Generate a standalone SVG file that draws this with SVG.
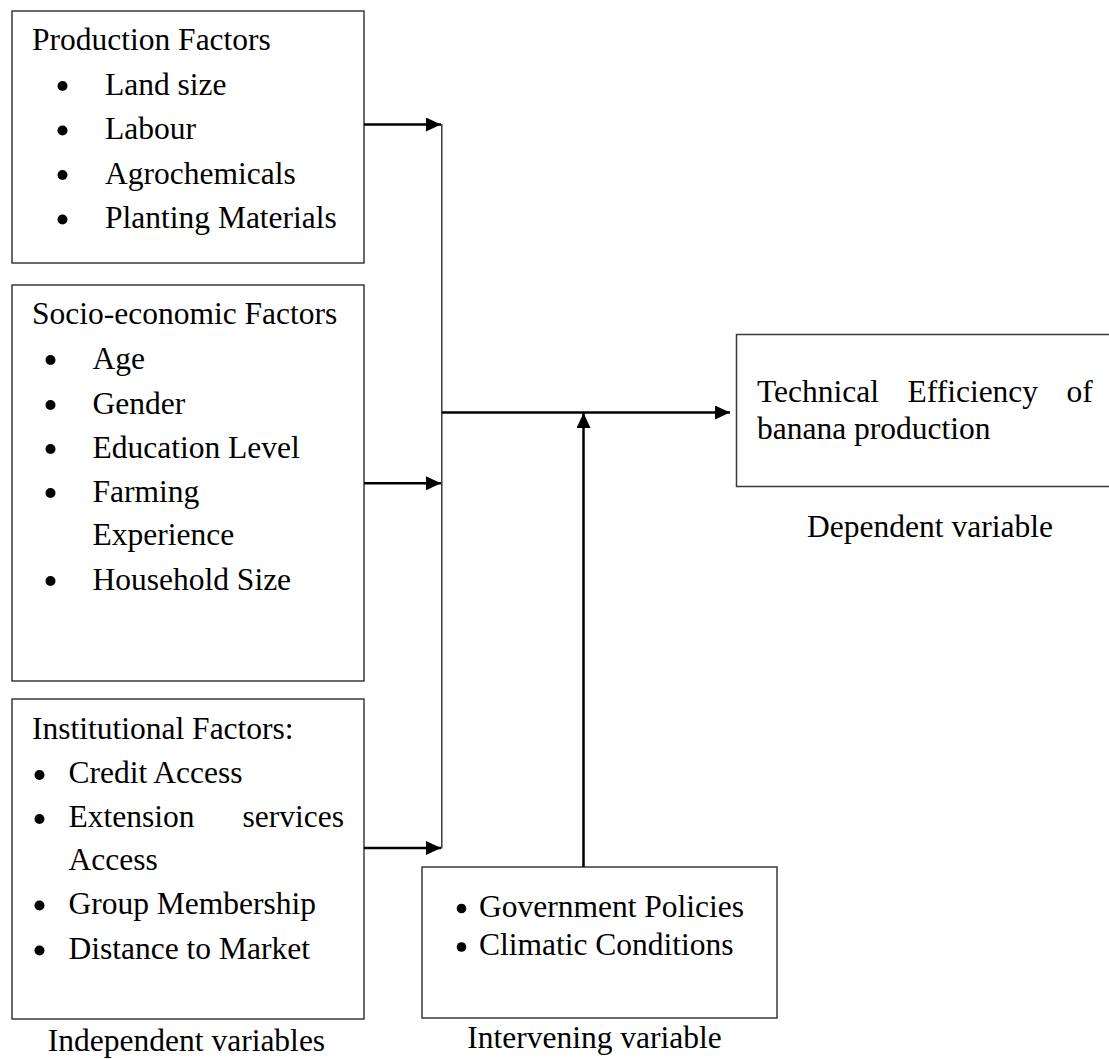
<svg xmlns="http://www.w3.org/2000/svg" width="1109" height="1059" viewBox="0 0 1109 1059">
<style>
  .box { fill: #ffffff; stroke: #3a3a3a; stroke-width: 1.5; }
  .t { font-family: "Liberation Serif", "Times New Roman", serif; font-size: 31.5px; fill: #000000; }
  .bul { fill: #000000; }
  .conn { fill: none; stroke: #000000; stroke-width: 2.5; }
  .bus { fill: none; stroke: #3a3a3a; stroke-width: 1.5; }
</style>
<defs>
  <marker id="arrow" markerUnits="userSpaceOnUse" markerWidth="16" markerHeight="15" refX="15" refY="7" orient="auto">
    <path d="M0,0 L15,7 L0,14 Z" fill="#000000"/>
  </marker>
</defs>
<rect width="1109" height="1059" fill="#ffffff"/>

<g id="production-factors">
  <rect class="box" x="12" y="11" width="352" height="252"/>
  <text class="t" x="32" y="50">Production Factors</text>
  <circle class="bul" cx="62.5" cy="86" r="5"/>
  <text class="t" x="105" y="94.5">Land size</text>
  <circle class="bul" cx="62.5" cy="130.5" r="5"/>
  <text class="t" x="105" y="139">Labour</text>
  <circle class="bul" cx="62.5" cy="175" r="5"/>
  <text class="t" x="105" y="183.5">Agrochemicals</text>
  <circle class="bul" cx="62.5" cy="219.5" r="5"/>
  <text class="t" x="105" y="228">Planting Materials</text>
</g>

<g id="socio-economic-factors">
  <rect class="box" x="12" y="285" width="352" height="396"/>
  <text class="t" x="32" y="323.5">Socio-economic Factors</text>
  <circle class="bul" cx="50.5" cy="360" r="5"/>
  <text class="t" x="92.5" y="368.5">Age</text>
  <circle class="bul" cx="50.5" cy="405" r="5"/>
  <text class="t" x="92.5" y="413.5">Gender</text>
  <circle class="bul" cx="50.5" cy="449" r="5"/>
  <text class="t" x="92.5" y="457.5">Education Level</text>
  <circle class="bul" cx="50.5" cy="493" r="5"/>
  <text class="t" x="92.5" y="501.5">Farming</text>
  <text class="t" x="92.5" y="545">Experience</text>
  <circle class="bul" cx="50.5" cy="581" r="5"/>
  <text class="t" x="92.5" y="589.5">Household Size</text>
</g>

<g id="institutional-factors">
  <rect class="box" x="12" y="699" width="352" height="320"/>
  <text class="t" x="32" y="739">Institutional Factors:</text>
  <circle class="bul" cx="39.5" cy="775" r="5"/>
  <text class="t" x="68.5" y="782.5">Credit Access</text>
  <circle class="bul" cx="39.5" cy="819" r="5"/>
  <text class="t" y="826.5"><tspan x="68.5">Extension</tspan><tspan x="242.5">services</tspan></text>
  <text class="t" x="68.5" y="870">Access</text>
  <circle class="bul" cx="39.5" cy="905.5" r="5"/>
  <text class="t" x="68.5" y="913.5">Group Membership</text>
  <circle class="bul" cx="39.5" cy="950.5" r="5"/>
  <text class="t" x="68.5" y="958.5">Distance to Market</text>
  <text class="t" x="186.5" y="1050.5" text-anchor="middle">Independent variables</text>
</g>

<g id="intervening-variable">
  <rect class="box" x="422" y="867" width="355" height="151"/>
  <circle class="bul" cx="461.5" cy="908.5" r="4.8"/>
  <text class="t" x="479" y="916.5">Government Policies</text>
  <circle class="bul" cx="461.5" cy="947" r="4.8"/>
  <text class="t" x="479" y="955">Climatic Conditions</text>
  <text class="t" x="594.5" y="1048" text-anchor="middle">Intervening variable</text>
</g>

<g id="dependent-variable">
  <path class="box" d="M1115,334.5 L736.5,334.5 L736.5,486.5 L1115,486.5"/>
  <text class="t" y="402"><tspan x="757">Technical</tspan><tspan x="907.5">Efficiency</tspan><tspan x="1066.5">of</tspan></text>
  <text class="t" x="757" y="439">banana production</text>
  <text class="t" x="930" y="537" text-anchor="middle">Dependent variable</text>
</g>

<g id="connectors">
  <line class="bus" x1="441.8" y1="124" x2="441.8" y2="848.5"/>
  <line class="conn" x1="364" y1="124.5" x2="441" y2="124.5" marker-end="url(#arrow)"/>
  <line class="conn" x1="364" y1="483.3" x2="441" y2="483.3" marker-end="url(#arrow)"/>
  <line class="conn" x1="364" y1="848" x2="441" y2="848" marker-end="url(#arrow)"/>
  <line class="conn" x1="442" y1="412.5" x2="730" y2="412.5" marker-end="url(#arrow)"/>
  <line class="conn" x1="583.5" y1="867" x2="583.5" y2="413" marker-end="url(#arrow)"/>
</g>
</svg>
